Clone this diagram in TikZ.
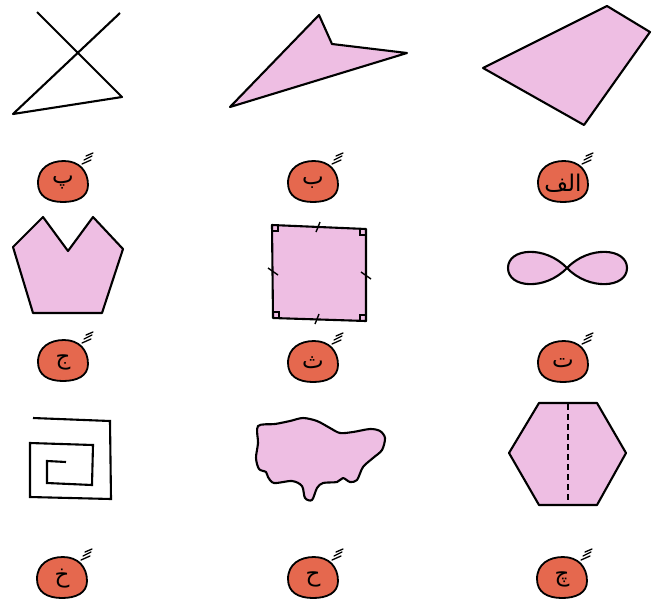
\documentclass[tikz,border=0pt]{standalone}
\usepackage{fontspec}
\newfontfamily\arabicfont[Script=Arabic]{DejaVu Sans}
\TeXXeTstate=1
\definecolor{shapepink}{RGB}{238,190,227}
\definecolor{blobred}{RGB}{229,104,78}
\tikzset{
  outline/.style={draw=black, line width=2.1pt, line join=round},
  pinkshape/.style={outline, fill=shapepink},
  lettbox/.pic={
    \draw[line width=1.8pt, fill=blobred]
      (-25,1) .. controls (-25,-14) and (-13,-21) .. (1,-21)
      .. controls (16,-21) and (25,-11) .. (25,3)
      .. controls (25,15) and (14,20) .. (0,20)
      .. controls (-15,20) and (-25,14) .. (-25,1) -- cycle;
    \draw[line width=1.3pt, line cap=round] (19,-18) -- (28,-22);
    \draw[line width=1.3pt, line cap=round] (21,-22) -- (29,-26);
    \draw[line width=1.3pt, line cap=round] (23,-26) -- (30,-29);
    \node[inner sep=0pt, font=\arabicfont\fontsize{23}{23}\selectfont] (-lbl) at (0,1) {\beginR #1\endR};
  }
}
\begin{document}
\begin{tikzpicture}[x=1pt, y=-1pt]
\useasboundingbox[fill=white] (0,0) rectangle (652,608);

% Row 1
\draw[outline, fill=none] (37,12) -- (122,97) -- (13,114) -- (120,13);
\draw[pinkshape] (319,15) -- (332,44) -- (407,53) -- (230,107) -- cycle;
\draw[pinkshape] (607,6) -- (650,32) -- (584,125) -- (483,68) -- cycle;

\pic (lp) at (63,182) {lettbox={پ}};
\pic (lb) at (313,182) {lettbox={ب}};
\pic (lalef) at (563,182) {lettbox={الف}};

% Row 2
\draw[pinkshape] (43,217) -- (68,251) -- (93,217) -- (123,249) -- (102,313) -- (33,313) -- (13,247) -- cycle;

\draw[pinkshape] (272,225) -- (366,229) -- (366,321) -- (273,318) -- cycle;
\draw[line width=1.1pt] (272,231) -- (278,231) -- (278,225);
\draw[line width=1.1pt] (360,229) -- (360,235) -- (366,235);
\draw[line width=1.1pt] (366,315) -- (360,315) -- (360,321);
\draw[line width=1.1pt] (279,318) -- (279,312) -- (273,312);
\draw[line width=1.4pt] (316,232) -- (320,222);
\draw[line width=1.4pt] (315,324) -- (319,314);
\draw[line width=1.4pt] (268,268) -- (278,275);
\draw[line width=1.4pt] (361,272) -- (371,279);

\draw[pinkshape] (567,268) .. controls (545,245) and (508,248) .. (508,268)
  .. controls (508,288) and (545,291) .. (567,268) -- cycle;
\draw[pinkshape] (567,268) .. controls (589,245) and (627,248) .. (627,268)
  .. controls (627,288) and (589,291) .. (567,268) -- cycle;

\pic (ljim) at (63,361) {lettbox={ج}};
\pic (lse) at (313,362) {lettbox={ث}};
\pic (lte) at (563,362) {lettbox={ت}};

% Row 3
\draw[outline, line join=miter] (33,418) -- (110,421) -- (111,499) -- (30,497) -- (30,443) -- (93,445) -- (92,485) -- (47,483) -- (47,461) -- (66,462);

\draw[pinkshape] plot[smooth cycle, tension=0.5] coordinates {
  (258,426) (275,424) (290,421) (303,418) (317,421) (330,428) (340,433)
  (353,432) (370,429) (380,431) (385,438) (382,450) (373,458) (363,467)
  (357,480) (350,482) (343,478) (337,482) (323,483) (317,488) (312,500)
  (305,498) (302,486) (292,481) (274,483) (268,477) (266,472) (259,469)
  (256,458) (258,443)};

\draw[pinkshape] (539,403) -- (597,403) -- (626,453) -- (597,505) -- (539,505) -- (509,453) -- cycle;
\draw[line width=1.8pt, dash pattern=on 6pt off 4pt] (568,404) -- (568,504);

\pic (lkhe) at (62,578) {lettbox={خ}};
\pic (lhe) at (313,578) {lettbox={ح}};
\pic (lche) at (562,578) {lettbox={چ}};
\end{tikzpicture}
\end{document}
